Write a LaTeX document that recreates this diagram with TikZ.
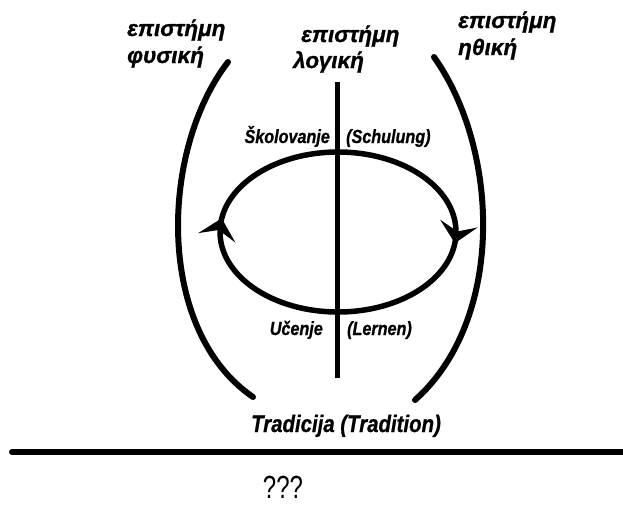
\documentclass[tikz,border=0pt]{standalone}
\usepackage{fontspec}
\setmainfont{Liberation Sans}
\newfontfamily\narrowfont[FakeStretch=0.85,FakeBold=0.8]{Liberation Sans}
\newfontfamily\plainnarrow[FakeStretch=0.75]{Liberation Sans}
\newfontfamily\greekfont[FakeBold=1]{Liberation Sans}
\usetikzlibrary{arrows.meta,decorations.markings}

\begin{document}
\begin{tikzpicture}[
  x=1pt, y=-1pt,
  greek/.style={anchor=base west, inner sep=0pt, font=\greekfont\fontsize{22.5}{26}\selectfont\bfseries\itshape},
  lbl/.style={inner sep=0pt, font=\narrowfont\fontsize{19}{23}\selectfont\bfseries\itshape},
  bracket/.style={line width=6pt, line cap=round},
  cycle arrow/.style={line width=5.5pt, postaction={decorate}, decoration={markings,
    mark=at position 0.018 with {\arrow{Stealth[length=20pt, width=38pt, inset=8pt]}},
    mark=at position 0.522 with {\arrow{Stealth[length=20pt, width=38pt, inset=8pt]}}}}
]
\useasboundingbox (0,0) rectangle (623,504);

% the three sciences
\node[greek] (phys1) at (127,36) {επιστήμη};
\node[greek] (phys2) at (127,63) {φυσική};
\node[greek] (log1) at (301,42) {επιστήμη};
\node[greek] (log2) at (293,68) {λογική};
\node[greek] (eth1) at (458,28) {επιστήμη};
\node[greek] (eth2) at (458,55) {ηθική};

% ends of the curves
\coordinate (lt) at (228,62);
\coordinate (lb) at (253,397);
\coordinate (rt) at (434,57);
\coordinate (rb) at (415,400);
\coordinate (ct) at (337,82);
\coordinate (cb) at (337,378);

\draw[bracket] (lt) .. controls (160,150) and (155,330) .. (lb);
\draw[bracket] (rt) .. controls (500,150) and (505,320) .. (rb);
\draw[line width=5pt] (ct) -- (cb);

% learning cycle
\node[inner sep=0pt] (cyc) at (338,232) {};
\draw[cycle arrow] (cyc.center) ellipse [x radius=118, y radius=80];

\node[lbl, anchor=base east] (skol) at (330,143) {Školovanje};
\node[lbl, anchor=base west] (schul) at (346,143) {(Schulung)};
\node[lbl, anchor=base east] (ucen) at (323,335) {Učenje};
\node[lbl, anchor=base west] (lern) at (347,335) {(Lernen)};

\node[lbl, anchor=base, font=\narrowfont\fontsize{24}{28}\selectfont\bfseries\itshape] (trad) at (346,432) {Tradicija (Tradition)};

% ground line
\coordinate (gl) at (12,452);
\coordinate (gr) at (626,452);
\draw[line width=6pt, line cap=round] (gl) -- (gr);

\node[inner sep=0pt, anchor=base, font=\plainnarrow\fontsize{32}{36}\selectfont] (q) at (283,498) {???};
\end{tikzpicture}
\end{document}
